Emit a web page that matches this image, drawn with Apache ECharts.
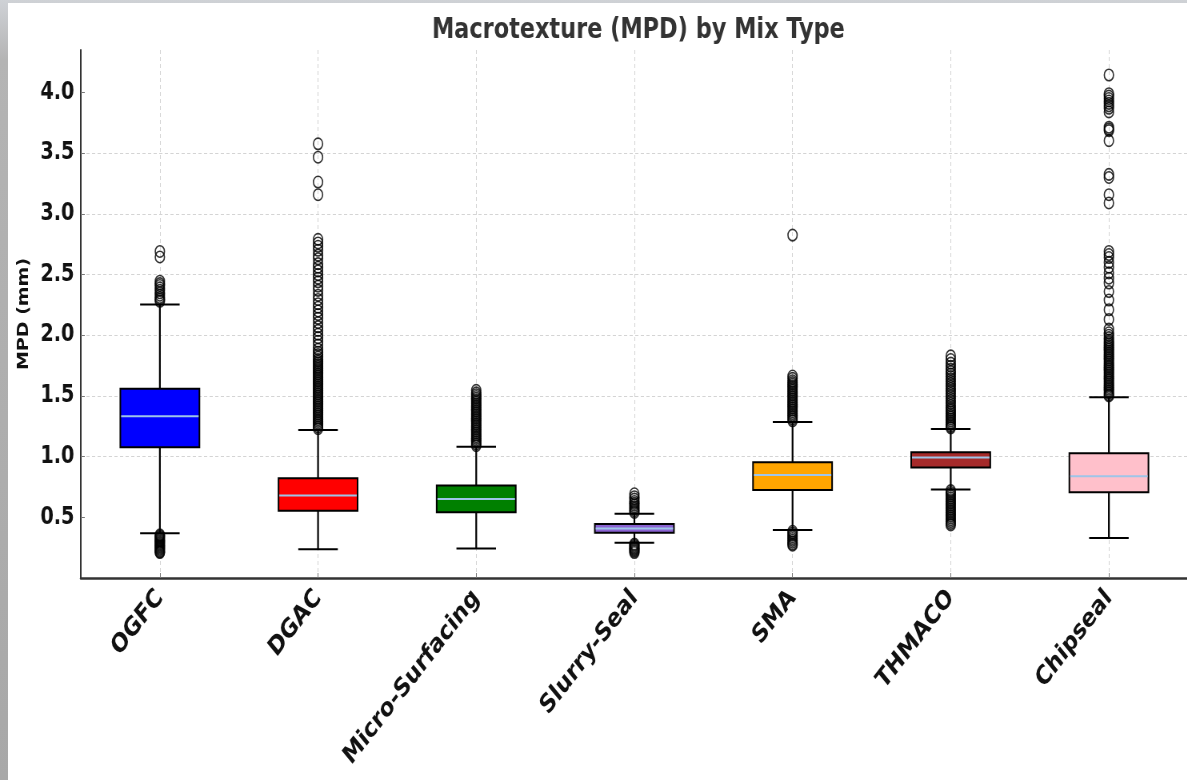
<!DOCTYPE html>
<html><head><meta charset="utf-8">
<script src="https://cdn.jsdelivr.net/npm/echarts@6/dist/echarts.min.js"></script>
<style>
html,body{margin:0;padding:0;width:1187px;height:780px;overflow:hidden;}
body{background:linear-gradient(180deg,#cfd2d6 0px,#b4b4b4 60px,#a8a8a8 780px);}
#wrap{position:absolute;left:8px;top:3px;width:1179px;height:777px;background:#fff;overflow:hidden;}
#chart{position:absolute;left:0;top:0;width:1475px;height:777px;transform:scaleX(0.8);transform-origin:0 0;}
</style></head>
<body><div id="wrap"><div id="chart"></div></div>
<script>
// ---- data ----
const categories = ['OGFC','DGAC','Micro-Surfacing','Slurry-Seal','SMA','THMACO','Chipseal'];
const lows    = [0.369, 0.237, 0.243, 0.290, 0.396, 0.729, 0.330];
const q1s     = [1.077, 0.555, 0.541, 0.372, 0.726, 0.910, 0.706];
const medians = [1.333, 0.680, 0.650, 0.407, 0.849, 0.992, 0.839];
const q3s     = [1.560, 0.822, 0.762, 0.445, 0.953, 1.036, 1.028];
const highs   = [2.254, 1.219, 1.082, 0.530, 1.285, 1.227, 1.490];
const yTicks  = [0.5, 1.0, 1.5, 2.0, 2.5, 3.0, 3.5, 4.0];

const outOGFC = [2.69, 2.645, 2.445, 2.425, 2.41, 2.39, 2.37, 2.35, 2.33, 2.31, 2.295, 2.28,
  0.355, 0.345, 0.335, 0.325, 0.315, 0.305, 0.295, 0.285, 0.275, 0.265, 0.255, 0.245, 0.235, 0.225, 0.215, 0.21];
const outDGAC = [3.577, 3.467, 3.262, 3.158, 2.79, 2.76, 2.733, 2.70, 2.66, 2.63, 2.59, 2.56, 2.53, 2.50, 2.47, 2.44,
  2.404, 2.37, 2.33, 2.295, 2.26, 2.23, 2.20, 2.17, 2.14, 2.104, 2.07, 2.04, 2.008, 1.98, 1.95, 1.92, 1.885, 1.86,
  1.84, 1.82, 1.80, 1.785, 1.77, 1.755, 1.74, 1.725, 1.71, 1.695, 1.68, 1.665, 1.65, 1.635, 1.62, 1.605, 1.59,
  1.575, 1.56, 1.545, 1.53, 1.515, 1.50, 1.485, 1.47, 1.455, 1.44, 1.425, 1.41, 1.395, 1.38, 1.365, 1.35, 1.335,
  1.32, 1.305, 1.29, 1.275, 1.26, 1.245, 1.23];
const outMicro = [1.546, 1.525, 1.51, 1.495, 1.48, 1.465, 1.45, 1.435, 1.42, 1.405, 1.39, 1.375, 1.36, 1.345,
  1.33, 1.315, 1.30, 1.285, 1.27, 1.255, 1.24, 1.225, 1.21, 1.195, 1.18, 1.165, 1.15, 1.135, 1.12, 1.105, 1.09];
const outSlurry = [0.694, 0.67, 0.65, 0.63, 0.615, 0.60, 0.585, 0.57, 0.555, 0.54,
  0.28, 0.27, 0.26, 0.25, 0.24, 0.23, 0.22, 0.21];
const outSMA = [2.825, 1.664, 1.645, 1.625, 1.61, 1.595, 1.58, 1.565, 1.55, 1.535, 1.52, 1.505, 1.49, 1.475,
  1.46, 1.445, 1.43, 1.415, 1.40, 1.385, 1.37, 1.355, 1.34, 1.325, 1.31, 1.295,
  0.385, 0.37, 0.355, 0.34, 0.325, 0.31, 0.295, 0.28, 0.27];
const outTHMACO = [1.83, 1.80, 1.77, 1.745, 1.72, 1.70, 1.68, 1.66, 1.64, 1.62, 1.60, 1.58, 1.56, 1.54, 1.52,
  1.50, 1.48, 1.46, 1.44, 1.42, 1.40, 1.385, 1.37, 1.355, 1.34, 1.325, 1.31, 1.295, 1.28, 1.265, 1.25, 1.237,
  0.72, 0.705, 0.69, 0.675, 0.66, 0.645, 0.63, 0.615, 0.60, 0.585, 0.57, 0.555, 0.54, 0.525, 0.51, 0.495,
  0.48, 0.465, 0.45, 0.437];
const outChipseal = [4.144, 3.99, 3.97, 3.95, 3.93, 3.91, 3.89, 3.87, 3.84, 3.714, 3.70, 3.686, 3.603, 3.325,
  3.30, 3.158, 3.09, 2.69, 2.665, 2.64, 2.60, 2.56, 2.514, 2.47, 2.43, 2.36, 2.29, 2.21, 2.13, 2.05, 2.02, 2.00,
  1.98, 1.96, 1.945, 1.93, 1.915, 1.90, 1.885, 1.87, 1.855, 1.84, 1.825, 1.81, 1.795, 1.78, 1.765, 1.75, 1.735,
  1.72, 1.705, 1.69, 1.675, 1.66, 1.645, 1.63, 1.615, 1.60, 1.585, 1.57, 1.555, 1.54, 1.525, 1.51, 1.50];
const outliers = [outOGFC, outDGAC, outMicro, outSlurry, outSMA, outTHMACO, outChipseal];

// ---- styles ----
const boxColors = ['#0000ff', '#ff0000', '#008000', '#8a63d2', '#ffa500', '#a52a2a', '#ffc0cb'];
const medianColor = '#9ec5e8';
const FONT = 'DejaVu Sans';

const boxData = categories.map((c, i) => [i, lows[i], q1s[i], medians[i], q3s[i], highs[i]]);
const outlierData = [];
outliers.forEach((arr, i) => arr.forEach(v => outlierData.push([i, v])));
const halfSlots = Array.from({length: categories.length * 2 + 1}, () => '');

const chart = echarts.init(document.getElementById('chart'), null, {renderer: 'canvas'});
chart.setOption({
  animation: false,
  backgroundColor: '#fff',
  title: {
    text: 'Macrotexture (MPD) by Mix Type',
    left: 783, top: 9, textAlign: 'center',
    textStyle: {fontFamily: FONT, fontWeight: 'bold', fontSize: 28, color: '#333'}
  },
  grid: {left: 91, right: 0, top: 47, bottom: 202, containLabel: false},
  xAxis: [{
    type: 'category', data: categories, boundaryGap: true,
    axisLine: {lineStyle: {color: '#333', width: 2.5}},
    axisTick: {show: true, alignWithLabel: true, inside: true, length: 5, lineStyle: {color: '#777'}},
    axisLabel: {rotate: 46, margin: 16, fontFamily: FONT, fontWeight: 'bold', fontSize: 26, color: '#111', interval: 0},
    splitLine: {show: false}
  }, {
    type: 'category', data: halfSlots, boundaryGap: false, position: 'bottom',
    axisLine: {show: false}, axisTick: {show: false}, axisLabel: {show: false},
    splitLine: {show: true, interval: (i) => i % 2 === 1, lineStyle: {color: '#d4d4d4', type: [4, 3], width: 1}}
  }],
  yAxis: {
    type: 'value', min: 0, max: 4.35, interval: 0.5,
    name: 'MPD (mm)', nameLocation: 'middle', nameGap: 60,
    nameTextStyle: {fontFamily: FONT, fontWeight: 'bold', fontSize: 19, color: '#111'},
    axisLine: {show: true, lineStyle: {color: '#333', width: 2}},
    axisTick: {show: true, inside: true, length: 5, customValues: yTicks, lineStyle: {color: '#777'}},
    axisLabel: {
      margin: 8, fontFamily: FONT, fontWeight: 'bold', fontSize: 24, color: '#111',
      formatter: (v) => yTicks.some(t => Math.abs(t - v) < 1e-6) ? Number(v).toFixed(1) : ''
    },
    splitLine: {show: true, showMinLine: false, showMaxLine: false, lineStyle: {color: '#d4d4d4', type: [4, 3], width: 1}}
  },
  series: [{
    type: 'scatter', xAxisIndex: 0, data: outlierData, symbol: 'circle', symbolSize: 11.5,
    itemStyle: {color: 'rgba(0,0,0,0)', borderColor: '#000', borderWidth: 1.6}, z: 3
  }, {
    type: 'custom', xAxisIndex: 0, data: boxData, z: 4,
    encode: {x: 0, y: [1, 2, 3, 4, 5]},
    renderItem: function (params, api) {
      const x = api.value(0);
      const lo = api.coord([x, api.value(1)]);
      const q1 = api.coord([x, api.value(2)]);
      const md = api.coord([x, api.value(3)]);
      const q3 = api.coord([x, api.value(4)]);
      const hi = api.coord([x, api.value(5)]);
      const band = api.size([1, 0])[0];
      const bw = band * 0.5, cw = band * 0.25;
      const cx = lo[0];
      const ls = {stroke: '#000', lineWidth: 2.2};
      const hs = {stroke: '#000', lineWidth: 2};
      return {type: 'group', children: [
        {type: 'line', shape: {x1: cx, y1: q3[1], x2: cx, y2: hi[1]}, style: ls},
        {type: 'line', shape: {x1: cx, y1: q1[1], x2: cx, y2: lo[1]}, style: ls},
        {type: 'line', shape: {x1: cx - cw / 2, y1: hi[1], x2: cx + cw / 2, y2: hi[1]}, style: hs},
        {type: 'line', shape: {x1: cx - cw / 2, y1: lo[1], x2: cx + cw / 2, y2: lo[1]}, style: hs},
        {type: 'rect', shape: {x: cx - bw / 2, y: q3[1], width: bw, height: q1[1] - q3[1]},
          style: {fill: boxColors[params.dataIndex], stroke: '#000', lineWidth: 2}},
        {type: 'line', shape: {x1: cx - bw / 2 + 1, y1: md[1], x2: cx + bw / 2 - 1, y2: md[1]},
          style: {stroke: medianColor, lineWidth: 2}}
      ]};
    }
  }]
});
</script></body></html>
